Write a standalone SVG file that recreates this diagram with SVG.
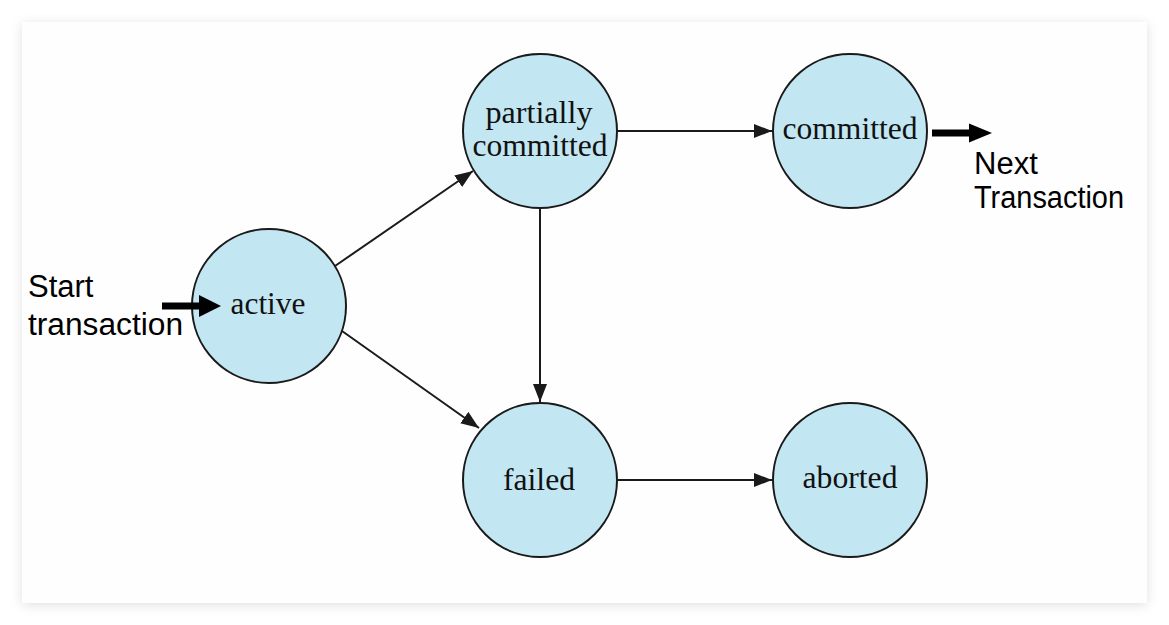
<svg xmlns="http://www.w3.org/2000/svg" width="1169" height="625" viewBox="0 0 1169 625">
  <defs>
    <filter id="shadow" x="-5%" y="-5%" width="110%" height="110%">
      <feDropShadow dx="0" dy="2" stdDeviation="6" flood-color="#000" flood-opacity="0.12"/>
    </filter>
    <marker id="arrow" markerUnits="userSpaceOnUse" markerWidth="20" markerHeight="16" refX="18" refY="7" orient="auto">
      <path d="M0,0 L18,7 L0,14 z" fill="#1a1a1a"/>
    </marker>
  </defs>
  <style>
    .state { fill: #c3e7f2; stroke: #1a1a1a; stroke-width: 2; }
    .lbl { font-family: "Liberation Serif", "Times New Roman", serif; font-size: 31px; fill: #111; text-anchor: middle; }
    .note { font-family: "Liberation Sans", Arial, sans-serif; font-size: 31px; fill: #000; }
    .edge { stroke: #1a1a1a; stroke-width: 2; fill: none; marker-end: url(#arrow); }
    .shaft { stroke: #000; stroke-width: 7; fill: none; }
    .head { fill: #000; }
  </style>
  <rect x="0" y="0" width="1169" height="625" fill="#fff"/>
  <rect x="22" y="22" width="1125" height="581" fill="#fefefe" filter="url(#shadow)"/>

  <g id="active">
    <circle class="state" cx="269" cy="306" r="77"/>
    <text class="lbl" x="268" y="314" textLength="75" lengthAdjust="spacingAndGlyphs">active</text>
  </g>
  <g id="partially-committed">
    <circle class="state" cx="540" cy="131" r="77"/>
    <text class="lbl" x="539" y="123" textLength="107" lengthAdjust="spacingAndGlyphs">partially</text>
    <text class="lbl" x="540" y="156" textLength="135" lengthAdjust="spacingAndGlyphs">committed</text>
  </g>
  <g id="committed">
    <circle class="state" cx="850" cy="131" r="77"/>
    <text class="lbl" x="850" y="139" textLength="135" lengthAdjust="spacingAndGlyphs">committed</text>
  </g>
  <g id="failed">
    <circle class="state" cx="540" cy="480" r="77"/>
    <text class="lbl" x="539" y="490" textLength="72" lengthAdjust="spacingAndGlyphs">failed</text>
  </g>
  <g id="aborted">
    <circle class="state" cx="850" cy="480" r="77"/>
    <text class="lbl" x="850" y="488" textLength="95" lengthAdjust="spacingAndGlyphs">aborted</text>
  </g>

  <g id="connectors">
    <line class="edge" x1="335" y1="266" x2="473" y2="171"/>
    <line class="edge" x1="342" y1="331" x2="479" y2="428"/>
    <line class="edge" x1="540" y1="209" x2="540" y2="402"/>
    <line class="edge" x1="618" y1="131" x2="772" y2="131"/>
    <line class="edge" x1="618" y1="480" x2="772" y2="480"/>
    <line class="shaft" x1="162" y1="306" x2="202" y2="306"/>
    <polygon class="head" points="199,295 221,306 199,317"/>
    <line class="shaft" x1="932" y1="133" x2="972" y2="133"/>
    <polygon class="head" points="969,123.5 992,133 969,142.5"/>
  </g>

  <g id="start-label">
    <text class="note" x="28" y="297">Start</text>
    <text class="note" x="28" y="335" textLength="155" lengthAdjust="spacingAndGlyphs">transaction</text>
  </g>
  <g id="next-label">
    <text class="note" x="974" y="174">Next</text>
    <text class="note" x="974" y="208" textLength="150" lengthAdjust="spacingAndGlyphs">Transaction</text>
  </g>
</svg>
